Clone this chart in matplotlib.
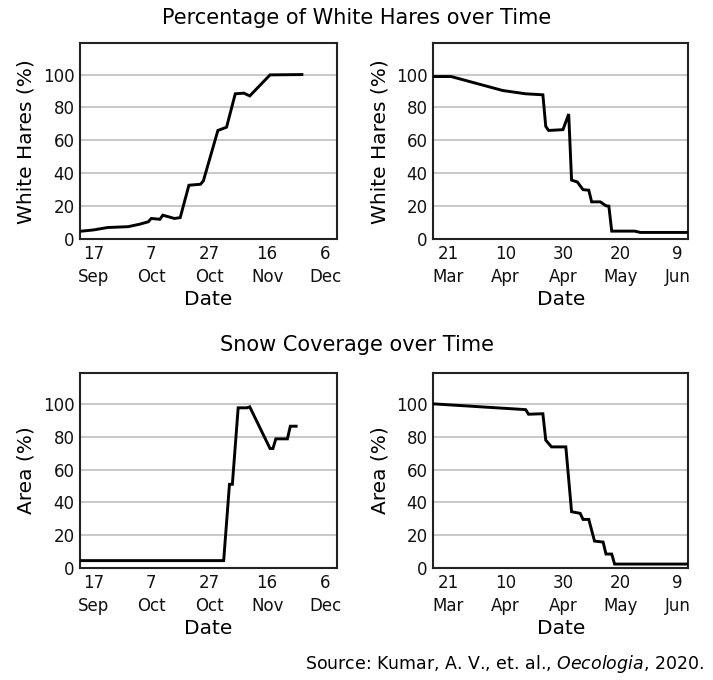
import matplotlib
matplotlib.use("Agg")
import matplotlib.pyplot as plt
import pandas as pd

plt.rcParams['font.family'] = ['DejaVu Sans']
plt.rcParams['mathtext.fontset'] = 'dejavusans'

# fall (hares turning white) and spring (hares turning brown)
fall_hare_dates = ['2017-09-13', '2017-09-17', '2017-09-22', '2017-09-29', '2017-10-03',
                   '2017-10-06', '2017-10-07', '2017-10-10', '2017-10-11', '2017-10-15',
                   '2017-10-17', '2017-10-20', '2017-10-24', '2017-10-25', '2017-10-30',
                   '2017-11-02', '2017-11-05', '2017-11-08', '2017-11-10', '2017-11-17',
                   '2017-11-28']
fall_hare_pct = [4.8, 5.5, 7, 7.5, 9, 10.5, 12.5, 12, 14.5, 12.5, 13, 32.7, 33.3, 35.4,
                 66, 68, 88.3, 88.7, 87, 99.8, 100]

spring_hare_dates = ['2018-03-16', '2018-03-22', '2018-04-09', '2018-04-17', '2018-04-23',
                     '2018-04-24', '2018-04-25', '2018-04-30', '2018-05-02', '2018-05-03',
                     '2018-05-05', '2018-05-07', '2018-05-09', '2018-05-10', '2018-05-13',
                     '2018-05-15', '2018-05-16', '2018-05-17', '2018-05-25', '2018-05-27',
                     '2018-06-12']
spring_hare_pct = [98.8, 98.8, 90.3, 88.3, 87.7, 68.5, 66, 66.5, 76, 35.8, 34.7, 30, 29.7,
                   22.6, 22.6, 20.2, 20, 4.8, 4.8, 4, 4]

fall_snow_dates = ['2017-09-13', '2017-11-01', '2017-11-03', '2017-11-04', '2017-11-06',
                   '2017-11-09', '2017-11-10', '2017-11-17', '2017-11-18', '2017-11-19',
                   '2017-11-23', '2017-11-24', '2017-11-26']
fall_snow_pct = [4.5, 4.5, 51, 51, 97.6, 97.6, 98.2, 72.8, 72.8, 78.7, 78.7, 86.4, 86.4]

spring_snow_dates = ['2018-03-16', '2018-04-17', '2018-04-18', '2018-04-23', '2018-04-24',
                     '2018-04-26', '2018-05-01', '2018-05-03', '2018-05-06', '2018-05-07',
                     '2018-05-09', '2018-05-11', '2018-05-14', '2018-05-15', '2018-05-17',
                     '2018-05-18', '2018-06-12']
spring_snow_pct = [100, 96.5, 93.7, 94, 77.9, 73.8, 73.8, 34.3, 33.3, 29.6, 29.6, 16.4, 15.8,
                   8.5, 8.5, 2.4, 2.4]

fall_ticks = ['2017-09-17', '2017-10-07', '2017-10-27', '2017-11-16', '2017-12-06']
fall_tick_labels = ['17\nSep', '7\nOct', '27\nOct', '16\nNov', '6\nDec']
spring_ticks = ['2018-03-21', '2018-04-10', '2018-04-30', '2018-05-20', '2018-06-09']
spring_tick_labels = ['21\nMar', '10\nApr', '30\nApr', '20\nMay', '9\nJun']

fall_xlim = ('2017-09-12 10:00', '2017-12-10 00:00')
spring_xlim = ('2018-03-15 19:00', '2018-06-12 17:00')

fig = plt.figure(figsize=(7.13, 6.8), dpi=100)

panels = [
    ([0.1122, 0.6485, 0.36, 0.2878], fall_hare_dates, fall_hare_pct, fall_ticks, fall_tick_labels, fall_xlim, 'White Hares (%)'),
    ([0.6077, 0.6485, 0.3577, 0.2878], spring_hare_dates, spring_hare_pct, spring_ticks, spring_tick_labels, spring_xlim, 'White Hares (%)'),
    ([0.1122, 0.1647, 0.36, 0.2872], fall_snow_dates, fall_snow_pct, fall_ticks, fall_tick_labels, fall_xlim, 'Area (%)'),
    ([0.6077, 0.1647, 0.3577, 0.2872], spring_snow_dates, spring_snow_pct, spring_ticks, spring_tick_labels, spring_xlim, 'Area (%)'),
]

for rect, dates, vals, ticks, tick_labels, xlim, ylabel in panels:
    ax = fig.add_axes(rect)
    ax.plot(pd.to_datetime(dates), vals, color='black', lw=2.1, solid_joinstyle='miter', zorder=3)
    ax.set_xlim(pd.Timestamp(xlim[0]), pd.Timestamp(xlim[1]))
    ax.set_ylim(0, 119)
    ax.set_yticks([0, 20, 40, 60, 80, 100])
    ax.set_xticks(pd.to_datetime(ticks))
    ax.set_xticklabels(tick_labels, linespacing=1.4)
    ax.tick_params(length=0, labelsize=12, pad=4, colors='#111111')
    ax.yaxis.grid(True, color='#c4c4c4', lw=1.3)
    ax.set_axisbelow(True)
    for s in ax.spines.values():
        s.set_color('#222222')
        s.set_linewidth(1.5)
    ax.set_xlabel('Date', fontsize=14.5, labelpad=3)
    ax.set_ylabel(ylabel, fontsize=14.5, labelpad=5)

fig.text(0.5, 0.973, 'Percentage of White Hares over Time', ha='center', va='center', fontsize=15)
fig.text(0.5, 0.493, 'Snow Coverage over Time', ha='center', va='center', fontsize=15)
fig.text(0.988, 0.023, r'Source: Kumar, A. V., et. al., $\it{Oecologia}$, 2020.',
         ha='right', va='center', fontsize=12.5)

fig.savefig('out.png', dpi=100)
